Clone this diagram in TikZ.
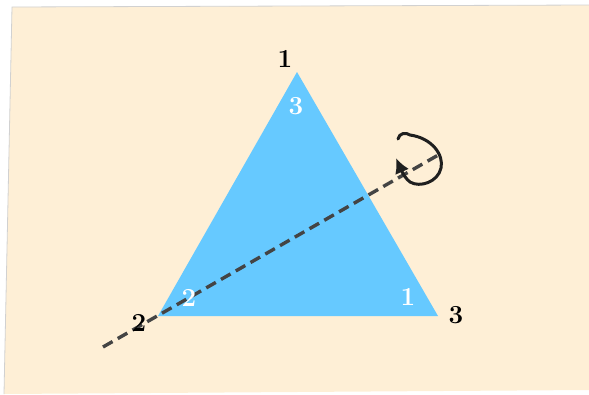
\documentclass[tikz,border=0pt]{standalone}
\usepackage{fontspec}
\usetikzlibrary{arrows.meta}
\definecolor{paper}{HTML}{FEEFD6}
\definecolor{prism}{HTML}{66C9FF}
\definecolor{axisgray}{HTML}{444444}
\begin{document}
\begin{tikzpicture}[x=1pt,y=-1pt,
 vlab/.style={font=\fontsize{26}{30}\selectfont\bfseries,inner sep=0pt},
 inlab/.style={vlab,text=white},
 axisline/.style={draw=axisgray,line width=3.4pt,dash pattern=on 11pt off 6pt},
 spin/.style={draw=black!88,line width=3pt,line cap=round,line join=round}]
\useasboundingbox (0,0) rectangle (589,394);
% paper sheet
\fill[paper] (12,7) -- (589,5) -- (589,390) -- (4,394) -- cycle;
\draw[black!18,line width=.8pt] (4,394) -- (12,7) -- (589,5);
% triangle
\coordinate (v1) at (297,72);
\coordinate (v2) at (158,316);
\coordinate (v3) at (438,316);
\fill[prism] (v1) -- (v2) -- (v3) -- cycle;
% rotation axis
\coordinate (a0) at (103,347);
\coordinate (a1) at (440,154);
\draw[axisline] (a0) -- (a1);
\draw[spin,-{Latex[length=15pt,width=15pt]}] (398,139) .. controls (399,133) and (406,132) .. (410,135)
  .. controls (432,138) and (444,155) .. (441,168) .. controls (438,182) and (420,188) .. (410,182)
  .. controls (406,179) and (403,174) .. (396,158);
% labels
\foreach \nm/\x/\y/\lab in {o1/285/59/1,o2/139/323/2,o3/456/315/3}{
  \node[vlab] (\nm) at (\x,\y) {\lab};}
\foreach \nm/\x/\y/\lab in {i1/296/106/3,i2/189/298/2,i3/408/297/1}{
  \node[inlab] (\nm) at (\x,\y) {\lab};}
\end{tikzpicture}
\end{document}
